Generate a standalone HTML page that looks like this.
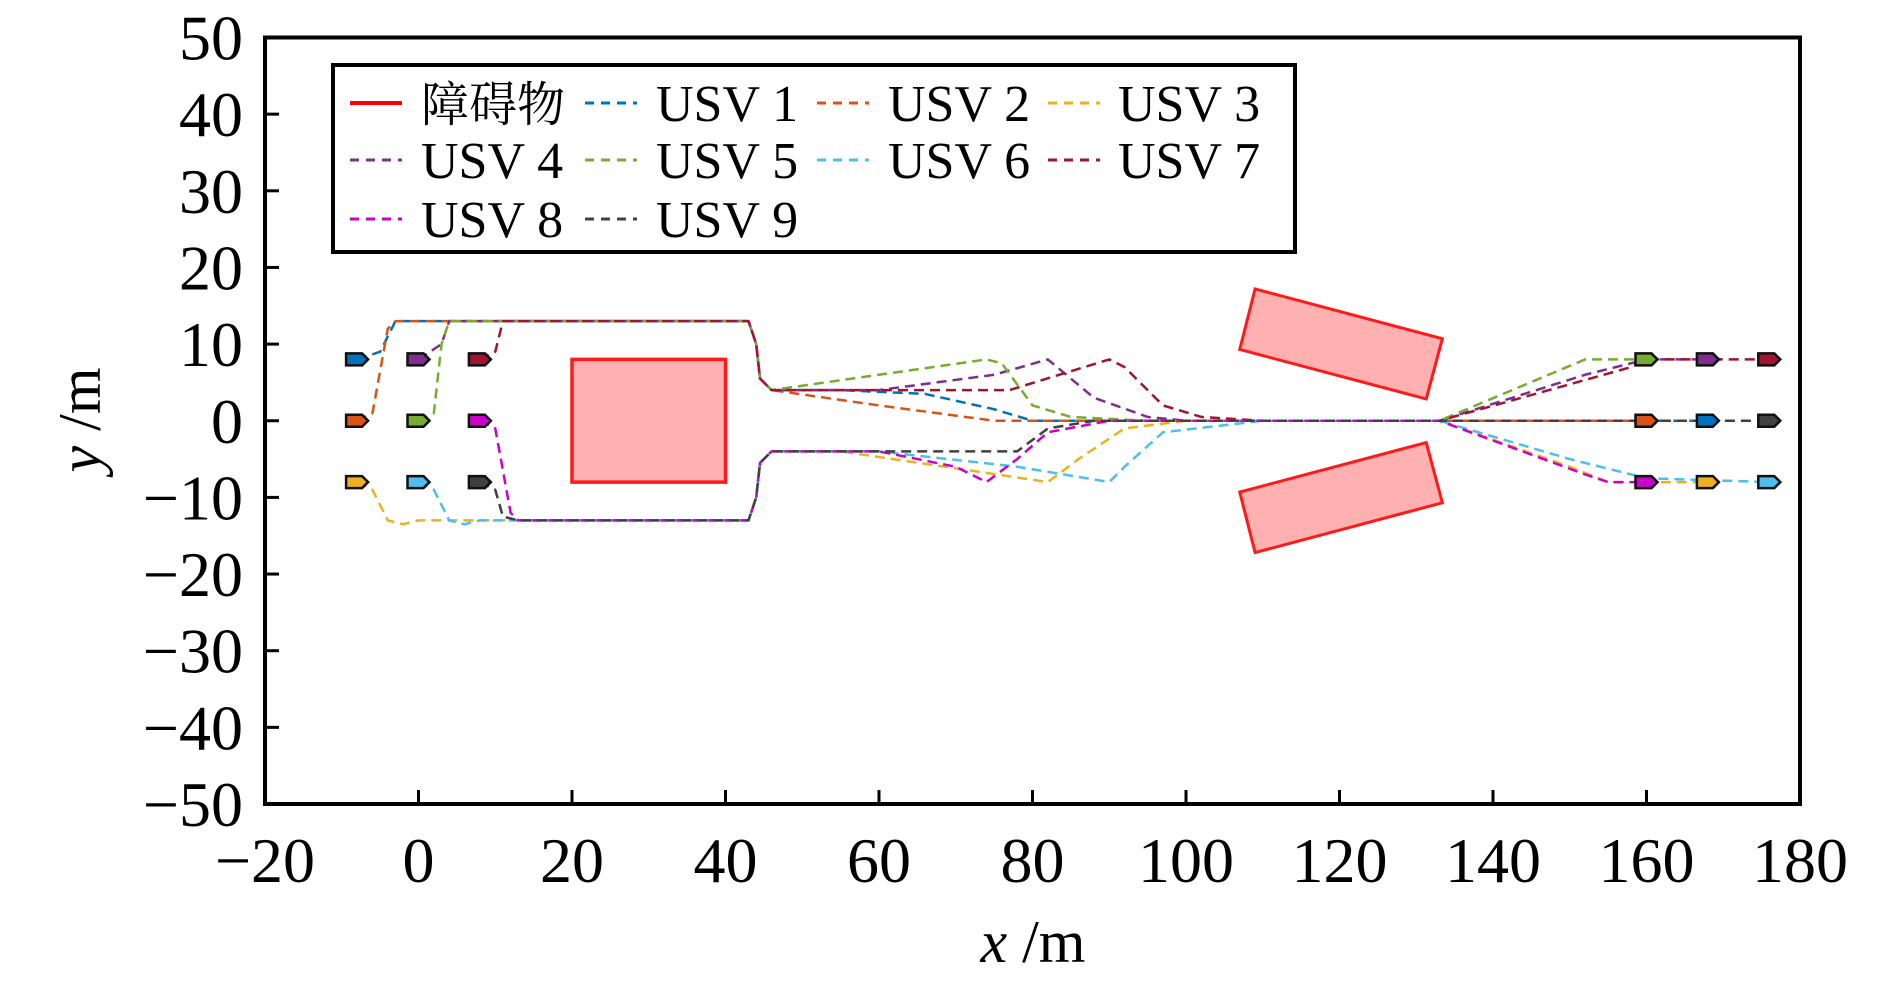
<!DOCTYPE html>
<html><head><meta charset="utf-8">
<style>
html,body{margin:0;padding:0;background:#fff;}
svg{display:block;}
text{font-family:"Liberation Serif","Noto Serif CJK SC",serif;fill:#000;}
</style></head>
<body>
<svg id="s" width="1890" height="981" xmlns="http://www.w3.org/2000/svg">
<rect width="1890" height="981" fill="#fff"/>
<g id="plot"></g>
<rect x="265" y="37.5" width="1535" height="766.5" fill="none" stroke="#000" stroke-width="4"/>
<g id="ticks"></g>
<!-- legend -->
<rect x="333" y="65" width="962" height="187" fill="#fff" stroke="#000" stroke-width="4"/>
<g font-size="52">
<line x1="350" y1="103" x2="402" y2="103" stroke="#ff0000" stroke-width="4"/>
<text x="421" y="121" style="font-family:'Noto Serif CJK SC','Noto Sans CJK SC',serif" font-size="48">障碍物</text>
<line x1="585" y1="103" x2="637" y2="103" stroke="#0072BD" stroke-width="3" stroke-dasharray="9,7"/>
<text x="656" y="121">USV 1</text>
<line x1="817" y1="103" x2="869" y2="103" stroke="#D95319" stroke-width="3" stroke-dasharray="9,7"/>
<text x="888" y="121">USV 2</text>
<line x1="1048" y1="103" x2="1100" y2="103" stroke="#EDB120" stroke-width="3" stroke-dasharray="9,7"/>
<text x="1118" y="121">USV 3</text>
<line x1="350" y1="160" x2="402" y2="160" stroke="#7E2F8E" stroke-width="3" stroke-dasharray="9,7"/>
<text x="421" y="178">USV 4</text>
<line x1="585" y1="160" x2="637" y2="160" stroke="#77AC30" stroke-width="3" stroke-dasharray="9,7"/>
<text x="656" y="178">USV 5</text>
<line x1="817" y1="160" x2="869" y2="160" stroke="#4DBEEE" stroke-width="3" stroke-dasharray="9,7"/>
<text x="888" y="178">USV 6</text>
<line x1="1048" y1="160" x2="1100" y2="160" stroke="#A2142F" stroke-width="3" stroke-dasharray="9,7"/>
<text x="1118" y="178">USV 7</text>
<line x1="350" y1="219" x2="402" y2="219" stroke="#CC00CC" stroke-width="3" stroke-dasharray="9,7"/>
<text x="421" y="237">USV 8</text>
<line x1="585" y1="219" x2="637" y2="219" stroke="#404040" stroke-width="3" stroke-dasharray="9,7"/>
<text x="656" y="237">USV 9</text>
</g>
<text x="1033" y="962" font-size="60" text-anchor="middle"><tspan font-style="italic">x</tspan> /m</text>
<text transform="translate(100,420) rotate(-90)" font-size="60" text-anchor="middle"><tspan font-style="italic">y</tspan> /m</text>
</svg>
<script>
var NS="http://www.w3.org/2000/svg";
function X(x){return 265+(x+20)*7.675;}
function Y(y){return 420.75-y*7.665;}
function el(n,a,p){var e=document.createElementNS(NS,n);for(var k in a)e.setAttribute(k,a[k]);(p||document.getElementById('plot')).appendChild(e);return e;}
var plot=document.getElementById('plot'),tk=document.getElementById('ticks');
// ticks
for(var v=-20;v<=180;v+=20){var x=X(v);el('line',{x1:x,y1:804,x2:x,y2:790,stroke:'#000','stroke-width':3},tk);
 var t=el('text',{x:x,y:882,'font-size':64,'text-anchor':'middle'},tk);t.textContent=(v<0?'\u2212':'')+Math.abs(v);}
for(var v=-50;v<=50;v+=10){var y=Y(v);el('line',{x1:265,y1:y,x2:279,y2:y,stroke:'#000','stroke-width':3},tk);
 var t=el('text',{x:243,y:y+22,'font-size':64,'text-anchor':'end'},tk);t.textContent=(v<0?'\u2212':'')+Math.abs(v);}
// obstacles
function poly(pts){return pts.map(function(p){return X(p[0])+','+Y(p[1]);}).join(' ');}
el('polygon',{points:poly([[20,-8],[20,8],[40,8],[40,-8]]),fill:'#ffb0b0',stroke:'#ff1a1a','stroke-width':3.5});
el('polygon',{points:poly([[107,9.3],[109,17.2],[133.4,10.7],[131.3,2.85]]),fill:'#ffb0b0',stroke:'#ff1a1a','stroke-width':3});
el('polygon',{points:poly([[107,-9.3],[109,-17.2],[133.4,-10.7],[131.3,-2.85]]),fill:'#ffb0b0',stroke:'#ff1a1a','stroke-width':3});
var up=[[43,13],[44,10],[44.5,5.5],[46,4]], lo=[[43,-13],[44,-10],[44.5,-5.5],[46,-4]];
var P={
1:['#0072BD',[[-8,8],[-5,9],[-3,13],[-1,13]].concat(up,[[55,4],[66,3.5],[75,1.5],[80,0],[168,0]])],
2:['#D95319',[[-8,0],[-6,1],[-4,12],[-3,13]].concat(up,[[60,2],[75,0],[160,0]])],
4:['#7E2F8E',[[0,8],[3,10],[4,13]].concat(up,[[60,4],[75,6],[82,8],[88,3],[95,0.5],[100,0],[133,0],[152,6],[160,8],[168,8]])],
5:['#77AC30',[[0,0],[2,1],[3,10],[4,13]].concat(up,[[74,8],[76,7.5],[80,2],[85,0.5],[95,0],[133,0],[152,8],[160,8]])],
7:['#A2142F',[[8,8],[10,9],[11,13],[12,13]].concat(up,[[60,4],[77,4],[90,8],[92,7],[97,2],[102,0.5],[110,0],[133,0],[158,7],[160,8],[176,8]])],
3:['#EDB120',[[-8,-8],[-6,-9],[-4,-13],[-2,-13.5],[0,-13]].concat(lo,[[55,-4],[72,-6.5],[82,-8],[86,-5],[92,-1],[100,0],[133,0],[150,-6],[155,-8],[168,-8]])],
6:['#4DBEEE',[[0,-8],[2,-9],[4,-13],[6,-13.5],[8,-13]].concat(lo,[[60,-4],[78,-6],[90,-8],[92,-6],[97,-1.5],[110,0],[133,0],[150,-5],[160,-7.5],[176,-8]])],
8:['#CC00CC',[[8,0],[10,-1],[12,-12],[13,-13]].concat(lo,[[60,-4],[70,-6],[74,-8],[78,-5],[82,-1.5],[90,0],[133,0],[152,-7],[155,-8],[160,-8]])],
9:['#404040',[[8,-8],[10,-9],[11,-12.5],[13,-13]].concat(lo,[[55,-4],[78,-4],[82,-1],[88,0],[176,0]])]
};
for(var k in P){el('polyline',{points:poly(P[k][1]),fill:'none',stroke:P[k][0],'stroke-width':2.5,'stroke-dasharray':'10,6','stroke-linejoin':'round'});}
function boat(x,y,c){var cx=X(x),cy=Y(y);
 el('polygon',{points:(cx-11)+','+(cy-6)+' '+(cx+5)+','+(cy-6)+' '+(cx+11)+','+cy+' '+(cx+5)+','+(cy+6)+' '+(cx-11)+','+(cy+6),fill:c,stroke:'#111','stroke-width':2.5});}
var B=[[-8,8,'#0072BD'],[-8,0,'#D95319'],[-8,-8,'#EDB120'],[0,8,'#7E2F8E'],[0,0,'#77AC30'],[0,-8,'#4DBEEE'],[8,8,'#A2142F'],[8,0,'#CC00CC'],[8,-8,'#404040'],
[160,8,'#77AC30'],[168,8,'#7E2F8E'],[176,8,'#A2142F'],[160,0,'#D95319'],[168,0,'#0072BD'],[176,0,'#404040'],[160,-8,'#CC00CC'],[168,-8,'#EDB120'],[176,-8,'#4DBEEE']];
B.forEach(function(b){boat(b[0],b[1],b[2]);});
</script>
</body></html>
